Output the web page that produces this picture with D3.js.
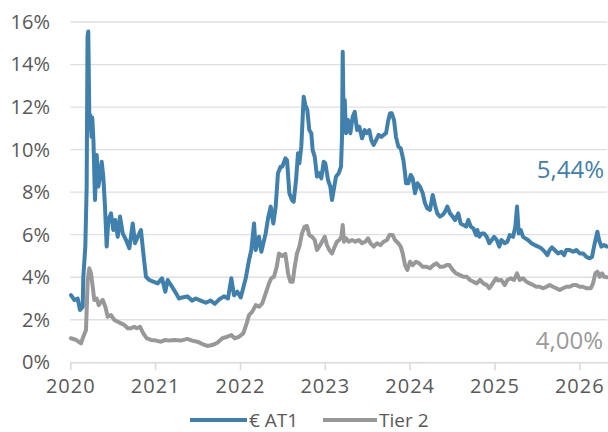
<!DOCTYPE html>
<html>
<head>
<meta charset="utf-8">
<script src="https://cdn.jsdelivr.net/npm/d3@7"></script>
<style>
  html, body { margin: 0; padding: 0; background: #ffffff; }
  svg { display: block; font-family: "Open Sans", "Liberation Sans", sans-serif; }
</style>
</head>
<body>
<svg id="chart" width="608" height="432"></svg>
<script>
// ---- data (time as decimal year offset from 2020, values in %) ----
const seriesNames = ["€ AT1", "Tier 2"];
const yTicks = [0, 2, 4, 6, 8, 10, 12, 14, 16];
const xTicks = [2020, 2021, 2022, 2023, 2024, 2025, 2026];
const endLabels = ["5,44%", "4,00%"];

const at1T = [0.008,0.047,0.087,0.114,0.146,0.153,0.177,0.193,0.203,0.212,0.226,0.238,0.250,0.259,0.273,0.291,0.311,0.330,0.350,0.370,0.389,0.409,0.429,0.448,0.480,0.507,0.530,0.559,0.586,0.618,0.657,0.696,0.736,0.763,0.795,0.833,0.861,0.892,0.931,0.978,1.030,1.081,1.120,1.148,1.199,1.238,1.281,1.320,1.379,1.438,1.478,1.537,1.596,1.655,1.702,1.753,1.812,1.859,1.898,1.930,1.969,2.009,2.068,2.107,2.134,2.166,2.186,2.224,2.252,2.303,2.331,2.362,2.393,2.421,2.448,2.480,2.499,2.535,2.555,2.582,2.613,2.633,2.661,2.684,2.700,2.723,2.751,2.770,2.794,2.817,2.841,2.857,2.881,2.908,2.935,2.959,2.987,3.006,3.038,3.065,3.085,3.105,3.132,3.164,3.191,3.203,3.211,3.223,3.235,3.250,3.274,3.301,3.329,3.353,3.380,3.407,3.439,3.470,3.497,3.525,3.548,3.576,3.604,3.635,3.666,3.694,3.722,3.745,3.769,3.789,3.816,3.839,3.867,3.895,3.926,3.946,3.957,3.985,4.013,4.036,4.063,4.091,4.122,4.154,4.181,4.208,4.240,4.272,4.299,4.326,4.358,4.390,4.417,4.444,4.476,4.508,4.535,4.574,4.602,4.633,4.665,4.692,4.720,4.751,4.783,4.798,4.821,4.850,4.877,4.909,4.939,4.968,4.995,5.027,5.057,5.081,5.121,5.152,5.180,5.219,5.246,5.266,5.286,5.309,5.337,5.364,5.396,5.434,5.475,5.514,5.552,5.592,5.623,5.651,5.678,5.710,5.749,5.788,5.820,5.847,5.887,5.926,5.965,6.005,6.044,6.083,6.123,6.150,6.182,6.213,6.233,6.260,6.292,6.324];
const at1V = [3.16,2.93,3.00,2.46,2.60,3.96,5.44,8.26,15.30,15.55,11.00,11.60,10.60,11.50,10.40,7.63,9.75,8.26,8.73,9.43,8.73,7.32,5.44,6.69,7.00,6.22,6.69,5.90,6.85,6.06,5.75,5.36,6.53,5.60,5.90,6.22,5.12,4.02,3.87,3.79,3.71,3.95,3.32,3.87,3.55,3.30,3.00,3.05,3.10,2.90,3.00,2.90,2.80,2.90,2.75,2.95,3.10,3.00,3.95,3.15,3.32,3.05,3.95,4.81,5.28,6.53,5.28,5.90,5.20,6.06,6.77,7.32,6.53,7.32,8.89,9.20,9.20,9.59,9.50,7.95,7.63,7.55,8.57,9.83,9.36,10.14,12.49,12.10,11.86,10.92,10.77,9.98,9.67,8.73,8.89,8.65,9.43,9.36,8.57,8.26,7.63,8.10,8.73,8.89,9.20,10.60,14.60,10.92,12.33,10.77,11.39,10.77,11.55,11.78,10.92,11.08,10.53,10.92,10.77,10.92,10.45,10.22,10.45,10.69,10.60,10.69,10.77,11.31,11.71,11.71,11.39,10.60,10.14,10.06,9.51,8.89,8.42,8.42,8.81,8.65,7.95,8.42,8.26,7.95,7.48,7.24,7.16,7.87,7.40,7.00,6.85,6.93,7.08,7.32,7.00,6.85,6.69,7.00,6.53,6.46,6.38,6.69,6.38,6.30,5.98,6.22,5.90,6.06,6.06,5.90,5.60,5.75,5.90,5.75,5.44,5.75,5.60,5.67,5.98,5.90,6.38,7.32,6.06,6.22,5.90,5.83,5.75,5.60,5.51,5.44,5.36,5.20,5.04,5.28,5.40,5.28,5.12,5.20,5.04,5.28,5.28,5.20,5.28,5.12,5.12,4.96,4.89,4.96,5.60,6.14,5.75,5.44,5.51,5.44];

const t2T = [0.008,0.067,0.126,0.153,0.185,0.205,0.224,0.244,0.264,0.283,0.311,0.335,0.362,0.382,0.413,0.441,0.480,0.519,0.559,0.598,0.637,0.677,0.716,0.754,0.783,0.822,0.861,0.901,0.951,1.010,1.069,1.120,1.167,1.226,1.301,1.379,1.438,1.497,1.556,1.615,1.674,1.733,1.792,1.851,1.898,1.938,1.989,2.039,2.079,2.107,2.145,2.186,2.224,2.263,2.303,2.342,2.369,2.401,2.433,2.460,2.495,2.535,2.567,2.593,2.622,2.645,2.672,2.700,2.731,2.763,2.790,2.817,2.849,2.881,2.908,2.935,2.967,2.999,3.026,3.053,3.085,3.117,3.144,3.171,3.195,3.211,3.226,3.250,3.282,3.321,3.360,3.400,3.439,3.478,3.510,3.537,3.577,3.616,3.655,3.694,3.733,3.761,3.800,3.827,3.866,3.895,3.918,3.946,3.973,4.005,4.036,4.075,4.114,4.154,4.201,4.240,4.279,4.318,4.358,4.397,4.437,4.468,4.508,4.547,4.594,4.633,4.673,4.712,4.751,4.791,4.830,4.869,4.909,4.939,4.979,5.018,5.042,5.081,5.121,5.152,5.192,5.230,5.266,5.298,5.337,5.376,5.416,5.455,5.494,5.533,5.572,5.612,5.651,5.690,5.729,5.769,5.808,5.847,5.887,5.926,5.965,6.005,6.044,6.083,6.135,6.162,6.189,6.213,6.241,6.268,6.292,6.324];
const t2V = [1.13,1.05,0.89,1.20,1.52,3.87,4.42,4.18,3.55,2.93,3.00,2.69,2.85,2.93,2.61,2.14,2.22,1.99,1.91,1.83,1.75,1.60,1.60,1.67,1.60,1.67,1.36,1.13,1.05,1.02,0.97,1.05,1.02,1.05,1.02,1.10,1.02,0.97,0.86,0.77,0.81,0.92,1.13,1.20,1.28,1.13,1.20,1.36,1.83,2.22,2.38,2.69,2.61,2.77,3.24,3.71,3.95,4.02,4.49,5.12,5.00,5.10,4.18,3.79,3.79,4.49,5.12,5.44,6.06,6.38,6.41,5.98,5.90,5.75,5.28,5.44,5.67,5.90,5.51,5.28,5.12,5.44,5.67,5.75,5.90,6.46,5.67,5.83,5.67,5.75,5.67,5.75,5.60,5.67,5.83,5.60,5.44,5.60,5.51,5.67,5.75,5.98,5.98,5.75,5.60,5.44,5.12,4.57,4.34,4.73,4.57,4.73,4.65,4.49,4.49,4.42,4.57,4.65,4.49,4.49,4.57,4.57,4.34,4.18,4.10,4.02,4.02,3.87,3.79,3.71,3.87,3.71,3.63,3.48,3.71,3.95,3.85,3.87,3.63,3.87,3.95,3.87,4.18,3.87,3.95,3.79,3.71,3.63,3.55,3.55,3.48,3.55,3.63,3.55,3.48,3.40,3.48,3.55,3.55,3.63,3.63,3.55,3.55,3.48,3.48,3.71,4.18,4.26,4.02,4.18,4.02,4.00];

const colors = ["#3f80ad", "#98989b"];

// ---- chart ----
const svg = d3.select("#chart");
const x = d3.scaleLinear().domain([2020, 2026.33]).range([70.3, 607.3]);
const y = d3.scaleLinear().domain([0, 16]).range([362.3, 22]);

// gridlines
svg.append("g")
  .selectAll("line")
  .data(yTicks.filter(d => d > 0))
  .join("line")
  .attr("x1", x.range()[0]).attr("x2", x.range()[1])
  .attr("y1", d => y(d)).attr("y2", d => y(d))
  .attr("stroke", "#dfdfe2").attr("stroke-width", 1.3);

// y axis labels
const yAxis = d3.axisLeft(y).tickValues(yTicks).tickFormat(d => d + "%").tickSize(0).tickPadding(0);
const gy = svg.append("g").attr("transform", "translate(50,0)").call(yAxis);
gy.select(".domain").remove();
gy.selectAll("text").attr("font-size", 20).attr("fill", "#595959")
  .attr("font-family", "'Open Sans', sans-serif");

// x axis
const xAxis = d3.axisBottom(x).tickValues(xTicks).tickFormat(d3.format("d")).tickSize(8).tickPadding(9).tickSizeOuter(0);
const gx = svg.append("g").attr("transform", `translate(0,${y(0)})`).call(xAxis);
gx.select(".domain").attr("stroke", "#d9d9d9").attr("stroke-width", 1.5);
gx.selectAll(".tick line").attr("stroke", "#d9d9d9").attr("stroke-width", 1.5);
gx.selectAll("text").attr("font-size", 20).attr("fill", "#595959")
  .attr("letter-spacing", 1)
  .attr("font-family", "'Open Sans', sans-serif");

// lines
const line = d3.line().x(d => x(2020 + d[0])).y(d => y(d[1])).curve(d3.curveLinear);
const seriesData = [
  at1T.map((t, i) => [t, at1V[i]]),
  t2T.map((t, i) => [t, t2V[i]])
];
// draw Tier 2 first, AT1 on top
[1, 0].forEach(k => {
  svg.append("path")
    .datum(seriesData[k])
    .attr("d", line)
    .attr("fill", "none")
    .attr("stroke", colors[k])
    .attr("stroke-width", 4)
    .attr("stroke-linejoin", "round")
    .attr("stroke-linecap", "round");
});

// end labels
svg.append("text").attr("x", 604).attr("y", 170).attr("dy", "0.35em")
  .attr("text-anchor", "end").attr("font-size", 24).attr("fill", colors[0]).text(endLabels[0]);
svg.append("text").attr("x", 603).attr("y", 341).attr("dy", "0.35em")
  .attr("text-anchor", "end").attr("font-size", 24).attr("fill", "#9a9a9a").text(endLabels[1]);

// legend
const legendItems = [
  { name: seriesNames[0], color: colors[0], x1: 190, x2: 247, tx: 249 },
  { name: seriesNames[1], color: colors[1], x1: 323, x2: 377, tx: 379 }
];
const lg = svg.append("g");
legendItems.forEach(it => {
  lg.append("line").attr("x1", it.x1).attr("x2", it.x2).attr("y1", 420).attr("y2", 420)
    .attr("stroke", it.color).attr("stroke-width", 4);
  lg.append("text").attr("x", it.tx).attr("y", 420).attr("dy", "0.35em")
    .attr("font-size", 19).attr("fill", "#595959").text(it.name);
});
</script>
</body>
</html>
